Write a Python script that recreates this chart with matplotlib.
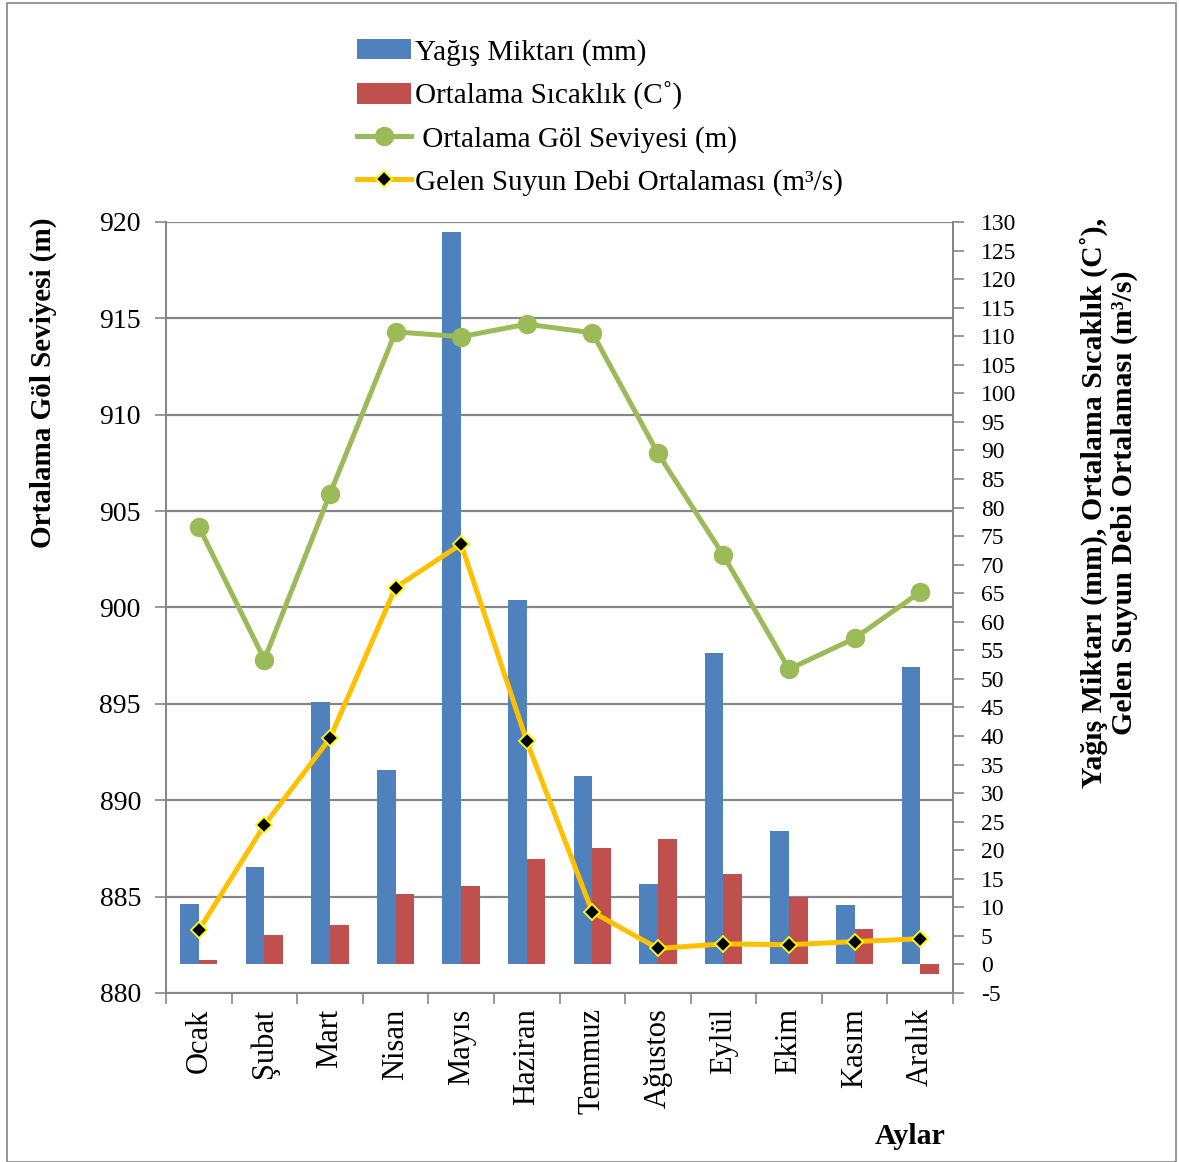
import matplotlib
matplotlib.use("Agg")
import matplotlib.pyplot as plt
import numpy as np
from matplotlib.patches import Rectangle

plt.rcParams['font.family'] = ['Liberation Serif', 'DejaVu Serif']

months = ["Ocak", "Şubat", "Mart", "Nisan", "Mayıs", "Haziran", "Temmuz",
          "Ağustos", "Eylül", "Ekim", "Kasım", "Aralık"]
yagis = [10.5, 17.0, 46.0, 34.0, 128.2, 63.8, 33.0, 14.0, 54.5, 23.4, 10.4, 52.1]
sicaklik = [0.8, 5.1, 6.9, 12.4, 13.8, 18.4, 20.4, 21.9, 15.8, 11.8, 6.2, -1.7]
gol_seviyesi = [904.2, 897.3, 905.9, 914.3, 914.05, 914.7, 914.25, 908.0, 902.7, 896.8, 898.4, 900.8]
debi = [6.0, 24.4, 39.6, 66.0, 73.6, 39.1, 9.2, 2.8, 3.6, 3.45, 4.0, 4.5]

left_ticks = [880, 885, 890, 895, 900, 905, 910, 915, 920]
right_ticks = list(range(-5, 131, 5))

GRAY = '#868686'
BLUE = '#4F81BD'
RED = '#C0504D'
GREEN = '#9BBB59'
YELLOW = '#FFC000'

W, H = 1179, 1162
fig = plt.figure(figsize=(W / 100, H / 100), dpi=100)
rect = [166 / W, 1 - 993 / H, (953 - 166) / W, (993 - 222) / H]
ax = fig.add_axes(rect)
ax2 = ax.twinx()
ax3 = ax.twinx()

x = np.arange(len(months))
bw = 0.285

# left axis (lake level) with gridlines
ax.set_xlim(-0.5, 11.5)
ax.set_ylim(880, 920)
ax.set_yticks(left_ticks)
ax.yaxis.grid(True, color=GRAY, lw=1.6)
ax.set_axisbelow(True)
ax.tick_params(axis='y', labelsize=20, length=8, width=1.2, color=GRAY, pad=10)

# x ticks: boundaries as major ticks, labels on minor ticks
ax.set_xticks(np.arange(-0.5, 12, 1))
ax.set_xticklabels([])
ax.set_xticks(x, minor=True)
ax.set_xticklabels(months, minor=True, rotation=90, fontsize=22, va='top', ha='center')
ax.tick_params(axis='x', which='major', length=8, width=1.2, color=GRAY)
ax.tick_params(axis='x', which='minor', length=0, pad=11)

# right axis: bars and flow line
ax2.set_ylim(-5, 130)
ax2.set_yticks(right_ticks)
ax2.set_yticklabels([str(t) for t in right_ticks])
ax2.tick_params(axis='y', labelsize=17, length=8, width=1.2, color=GRAY, pad=12)
ax2.bar(x - bw / 2, yagis, width=bw, color=BLUE, label='Yağış Miktarı (mm)', zorder=2)
ax2.bar(x + bw / 2, sicaklik, width=bw, color=RED, label='Ortalama Sıcaklık (C˚)', zorder=2)
ax2.plot(x, debi, color=YELLOW, lw=3.6, marker='D', markersize=8,
         markerfacecolor='black', markeredgecolor='#FFFF00', markeredgewidth=1.3,
         label='Gelen Suyun Debi Ortalaması (m³/s)', zorder=4)

# lake level line on top
ax3.set_ylim(880, 920)
ax3.plot(x, gol_seviyesi, color=GREEN, lw=3.6, marker='o', markersize=13,
         label=' Ortalama Göl Seviyesi (m)', zorder=5)
ax3.set_yticks([])
ax3.axis('off')

for a in (ax, ax2):
    for s in a.spines.values():
        s.set_color(GRAY)
        s.set_linewidth(1.4)
    a.spines['top'].set_visible(False)

# legend
h1, l1 = ax2.get_legend_handles_labels()
h3, l3 = ax3.get_legend_handles_labels()
handles = [h1[1], h1[2], h3[0], h1[0]]
labels = [l1[1], l1[2], l3[0], l1[0]]
fig.legend(handles, labels, loc='upper left', bbox_to_anchor=(345 / W, 1 - 27 / H),
           frameon=False, fontsize=21, handlelength=1.85, handletextpad=0.15,
           labelspacing=0.55, borderaxespad=0)

# axis titles
fig.text(43 / W, 1 - 383 / H, 'Ortalama Göl Seviyesi (m)', rotation=90,
         ha='center', va='center', fontsize=21, fontweight='bold')
fig.text(1109 / W, 1 - 503 / H,
         'Yağış Miktarı (mm), Ortalama Sıcaklık (C˚),\nGelen Suyun Debi Ortalaması (m³/s)',
         rotation=90, ha='center', va='center', fontsize=21.5, fontweight='bold',
         multialignment='center', linespacing=1.12)
fig.text(910 / W, 1 - 1136 / H, 'Aylar', ha='center', va='center',
         fontsize=21.5, fontweight='bold')

# chart border
fig.patches.append(Rectangle((7 / W, 0), (1176 - 7) / W, 1 - 3 / H, transform=fig.transFigure,
                             fill=False, edgecolor=GRAY, lw=1.2))

fig.savefig('out.png', dpi=100)
